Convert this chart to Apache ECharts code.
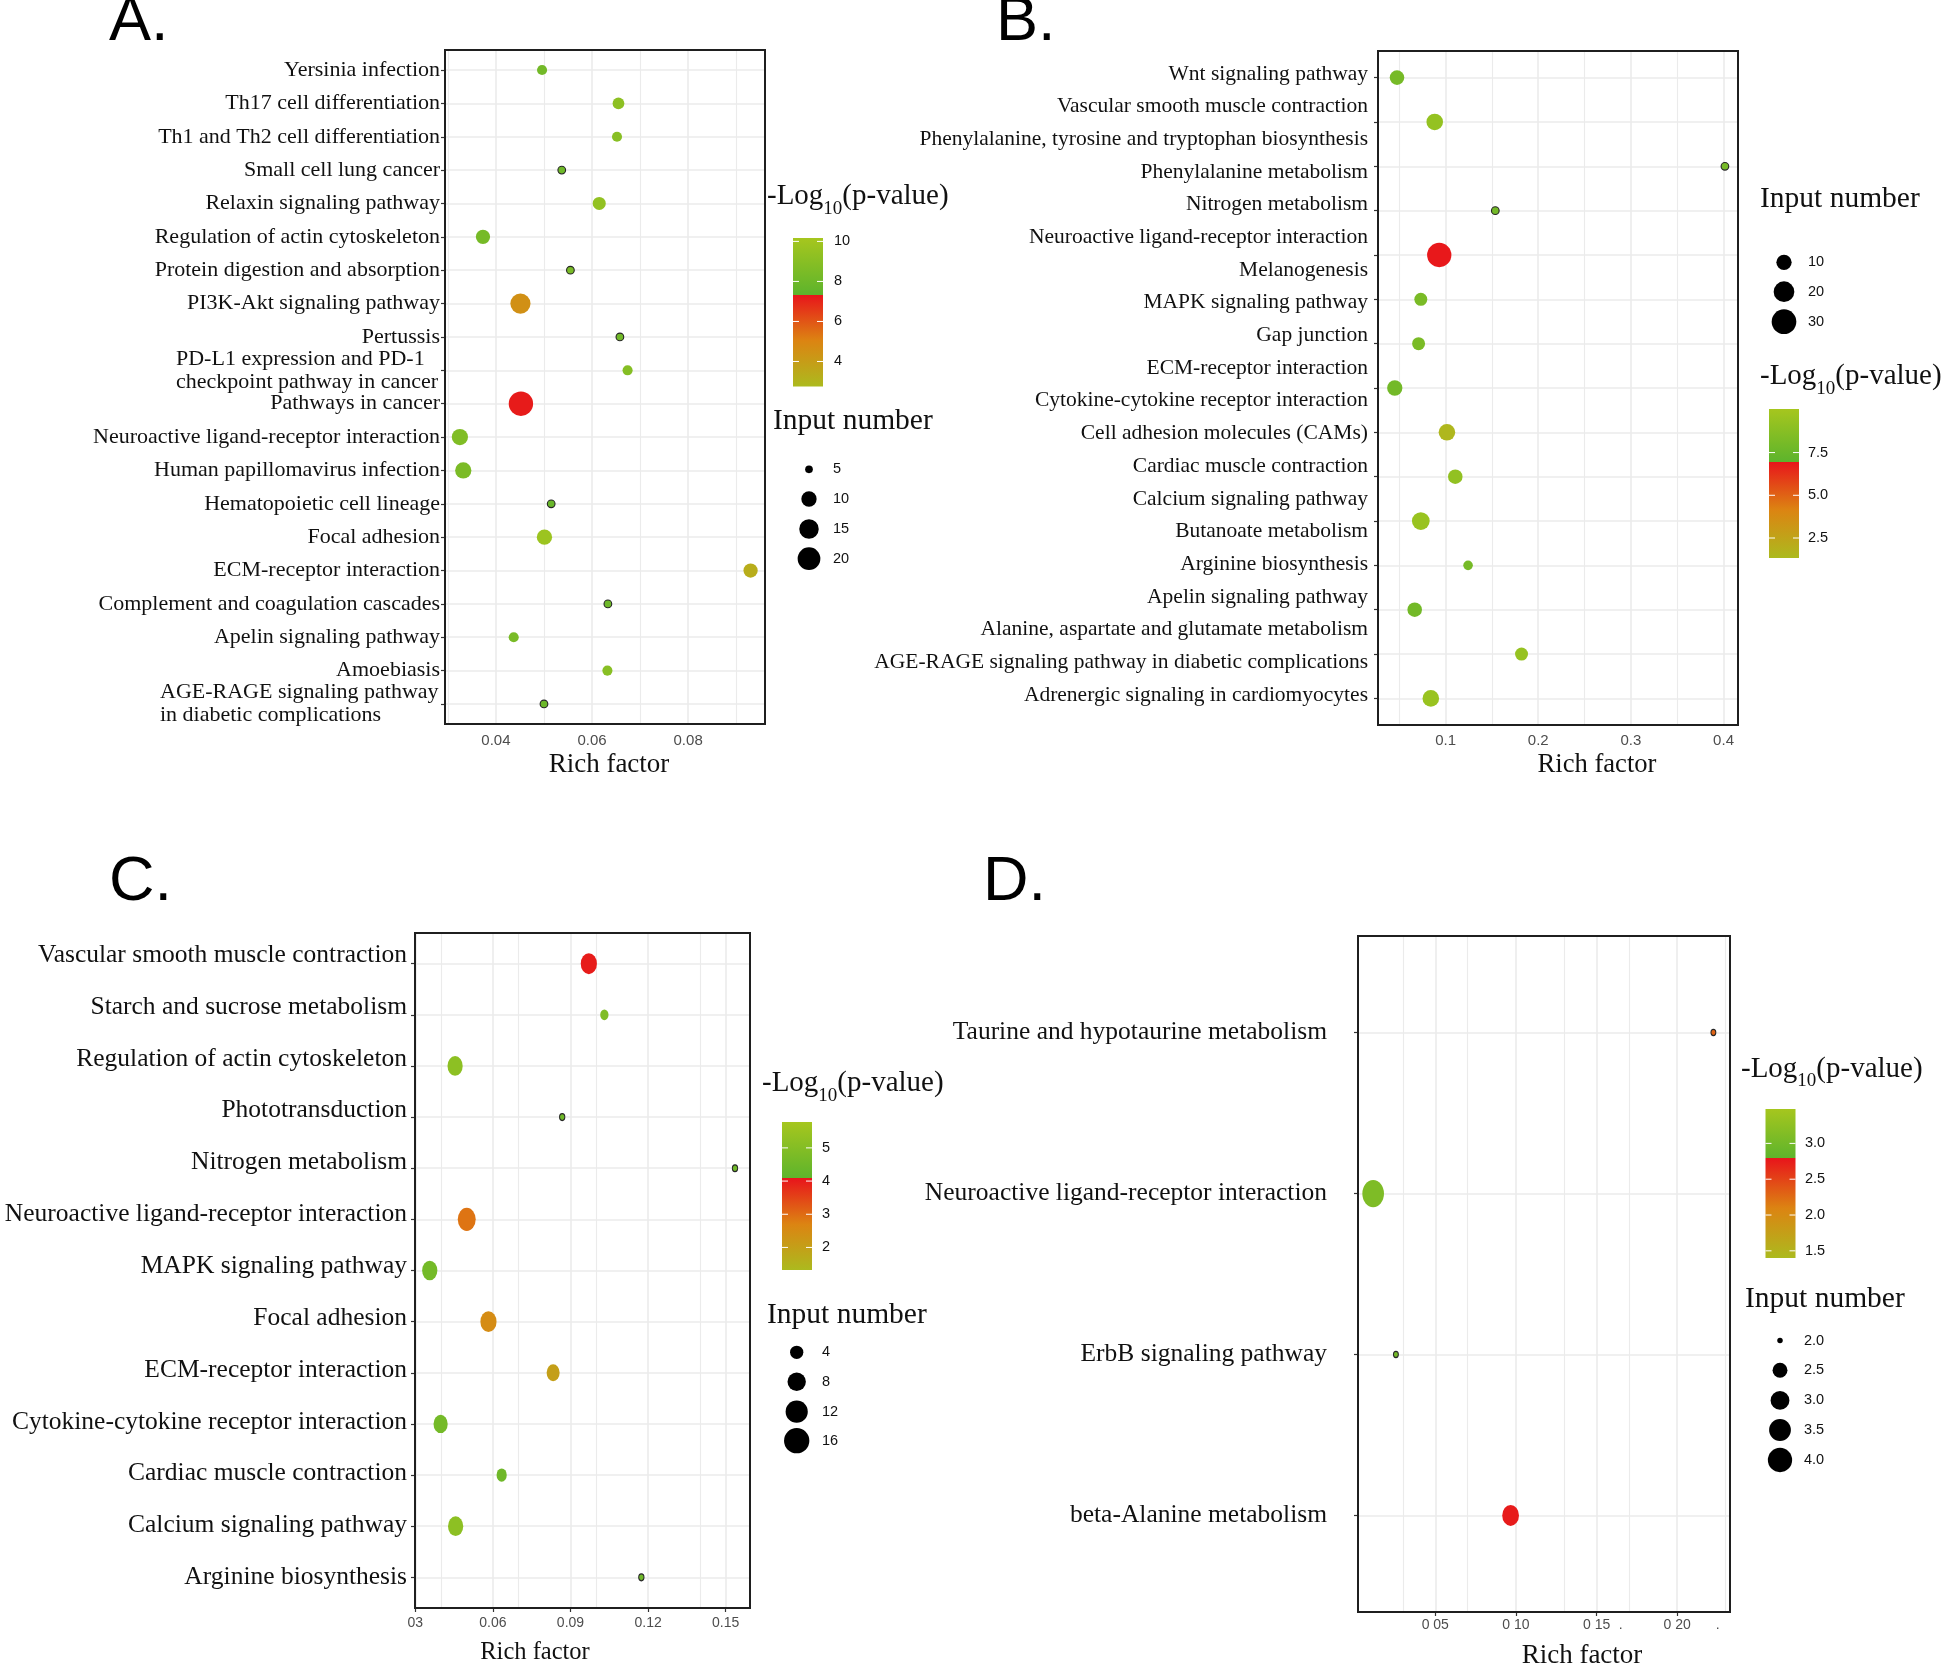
<!DOCTYPE html>
<html><head><meta charset="utf-8">
<script src="https://cdn.jsdelivr.net/npm/echarts@6/dist/echarts.min.js"></script>
<style>html,body{margin:0;padding:0;background:#fff}#c{width:1944px;height:1668px}</style>
</head><body><div id="c"></div>
<script>
// ================= DATA =================
// Panel A
const aTerms = ["Yersinia infection","Th17 cell differentiation","Th1 and Th2 cell differentiation","Small cell lung cancer","Relaxin signaling pathway","Regulation of actin cytoskeleton","Protein digestion and absorption","PI3K-Akt signaling pathway","Pertussis","PD-L1 expression and PD-1\ncheckpoint pathway in cancer","Pathways in cancer","Neuroactive ligand-receptor interaction","Human papillomavirus infection","Hematopoietic cell lineage","Focal adhesion","ECM-receptor interaction","Complement and coagulation cascades","Apelin signaling pathway","Amoebiasis","AGE-RAGE signaling pathway\nin diabetic complications"];
const aRich  = [0.0496,0.0655,0.0652,0.0537,0.0615,0.0373,0.0555,0.0451,0.0658,0.0674,0.0452,0.0325,0.0332,0.0515,0.0501,0.0930,0.0633,0.0437,0.0632,0.0500];
const aCount = [6,7,6,5,8,9,5,16,5,6,23,11,11,5,10,9,5,6,6,5];
const aLogP  = [8.2,9.2,9.0,8.0,9.4,8.3,8.4,4.5,8.1,8.9,7.2,8.7,8.5,7.8,9.8,3.3,8.0,8.4,9.0,7.9];
const aXTicks = [0.04,0.06,0.08];
const aXTickLabels = ["0.04","0.06","0.08"];
const aXMinor = [0.03,0.05,0.07,0.09];
const aColorRange = [2.75,7.33,10.17];
const aColorTicks = [10,8,6,4];
const aColorTickLabels = ["10","8","6","4"];
const aSizeBreaks = [5,10,15,20];
const aSizeLabels = ["5","10","15","20"];

// Panel B (20 labels drawn over 15 dot rows, as in the figure)
const bTerms = ["Wnt signaling pathway","Vascular smooth muscle contraction","Phenylalanine, tyrosine and tryptophan biosynthesis","Phenylalanine metabolism","Nitrogen metabolism","Neuroactive ligand-receptor interaction","Melanogenesis","MAPK signaling pathway","Gap junction","ECM-receptor interaction","Cytokine-cytokine receptor interaction","Cell adhesion molecules (CAMs)","Cardiac muscle contraction","Calcium signaling pathway","Butanoate metabolism","Arginine biosynthesis","Apelin signaling pathway","Alanine, aspartate and glutamate metabolism","AGE-RAGE signaling pathway in diabetic complications","Adrenergic signaling in cardiomyocytes"];
const bRich  = [0.0476,0.0883,0.4015,0.1537,0.0932,0.0733,0.0709,0.0452,0.1015,0.1105,0.0733,0.1243,0.0667,0.1820,0.0841];
const bCount = [9,12,3,3,29,7,7,10,12,9,14,4,9,7,12];
const bLogP  = [8.0,9.3,8.1,7.9,6.9,8.2,8.2,7.9,1.5,9.2,9.5,8.0,7.9,9.4,9.5];
const bXTicks = [0.1,0.2,0.3,0.4];
const bXTickLabels = ["0.1","0.2","0.3","0.4"];
const bXMinor = [0.05,0.15,0.25,0.35];
const bColorRange = [1.33,6.97,10.05];
const bColorTicks = [7.5,5.0,2.5];
const bColorTickLabels = ["7.5","5.0","2.5"];
const bSizeBreaks = [10,20,30];
const bSizeLabels = ["10","20","30"];

// Panel C
const cTerms = ["Vascular smooth muscle contraction","Starch and sucrose metabolism","Regulation of actin cytoskeleton","Phototransduction","Nitrogen metabolism","Neuroactive ligand-receptor interaction","MAPK signaling pathway","Focal adhesion","ECM-receptor interaction","Cytokine-cytokine receptor interaction","Cardiac muscle contraction","Calcium signaling pathway","Arginine biosynthesis"];
const cRich  = [0.0971,0.1031,0.0454,0.0868,0.1536,0.0499,0.0356,0.0583,0.0833,0.0398,0.0634,0.0456,0.1174];
const cCount = [8,2,7,1,1,10,7,8,5,6,3,7,1];
const cLogP  = [4.0,4.9,5.2,4.5,4.5,2.9,4.6,2.5,2.0,4.6,4.5,5.2,4.5];
const cXTicks = [0.03,0.06,0.09,0.12,0.15];
const cXTickLabels = ["03","0.06","0.09","0.12","0.15"];
const cXMinor = [0.045,0.075,0.105,0.135];
const cColorRange = [1.32,4.08,5.78];
const cColorTicks = [5,4,3,2];
const cColorTickLabels = ["5","4","3","2"];
const cSizeBreaks = [4,8,12,16];
const cSizeLabels = ["4","8","12","16"];

// Panel D
const dTerms = ["Taurine and hypotaurine metabolism","Neuroactive ligand-receptor interaction","ErbB signaling pathway","beta-Alanine metabolism"];
const dRich  = [0.2224,0.0115,0.0256,0.0967];
const dCount = [2,4,2,3];
const dLogP  = [2.3,3.1,3.0,2.75];
const dXTicks = [0.05,0.10,0.15,0.20];
const dXLabelValues = [0.05,0.10,0.15,0.165,0.20,0.225];
const dXTickLabels = ["0 05","0 10","0 15",".","0 20","."];
const dXMinor = [0.025,0.075,0.125,0.175,0.225];
const dColorRange = [1.40,2.79,3.48];
const dColorTicks = [3.0,2.5,2.0,1.5];
const dColorTickLabels = ["3.0","2.5","2.0","1.5"];
const dSizeBreaks = [2.0,2.5,3.0,3.5,4.0];
const dSizeLabels = ["2.0","2.5","3.0","3.5","4.0"];

// ================= STYLE / LAYOUT =================
const SERIF = '"Liberation Serif","Times New Roman",serif';
const SANS = '"Liberation Sans",Arial,sans-serif';
const NARROW = '"Liberation Sans Narrow","Liberation Sans",Arial,sans-serif';
const COL = {olive:[172,186,30], orange:[220,132,18], red:[232,21,27], green:[93,180,44], yg:[166,198,30]};
function lerp(a,b,t){return a.map((x,i)=>Math.round(x+(b[i]-x)*t));}
function rgb(c){return 'rgb('+c.join(',')+')';}
function colorAt(r,v){
  const lo=r[0],brk=r[1],hi=r[2];
  if(v>=brk){const t=Math.min(1,(v-brk)/(hi-brk));return rgb(lerp(COL.green,COL.yg,t));}
  const t=Math.max(0,(v-lo)/(brk-lo));
  return t<0.5?rgb(lerp(COL.olive,COL.orange,t/0.5)):rgb(lerp(COL.orange,COL.red,(t-0.5)/0.5));
}

const P = [
 {terms:aTerms, rich:aRich, count:aCount, logp:aLogP, nRows:aRich.length, lblTerms:null,
  grid:[445,50,320,674], xr:[0.0294,0.0960], xTicks:aXTicks, xLabelVals:aXTicks, xLabels:aXTickLabels, xMinor:aXMinor,
  showXTicks:false, xFont:SANS, xFs:15, xMargin:9, yFs:22, yMargin:5,
  cr:aColorRange, cTicks:aColorTicks, cTickLabels:aColorTickLabels, sBreaks:aSizeBreaks, sLabels:aSizeLabels,
  size:{lo:4.5,d0:4.4,k:4.65}, aspect:null,
  letter:["A.",109,23], rf:[609,765,27],
  logT:[767,196.5], bar:[793,238,30,148.5], barLX:834, sizeT:[773,421.7], sizeX:809, sizeYs:[469.3,499,529,558.7], sizeLX:833, legFont:SANS},
 {terms:null, rich:bRich, count:bCount, logp:bLogP, nRows:bRich.length, lblTerms:bTerms, lbl:{min:-0.707,max:19.92,fs:21.5,margin:10},
  grid:[1378,51,360,674], xr:[0.0271,0.4156], xTicks:bXTicks, xLabelVals:bXTicks, xLabels:bXTickLabels, xMinor:bXMinor,
  showXTicks:false, xFont:SANS, xFs:15, xMargin:8, yFs:21.5, yMargin:10,
  cr:bColorRange, cTicks:bColorTicks, cTickLabels:bColorTickLabels, sBreaks:bSizeBreaks, sLabels:bSizeLabels,
  size:{lo:2.5,d0:5.0,k:3.75}, aspect:null,
  letter:["B.",996,23], rf:[1597,765,26.6],
  logT:[1760,376.7], bar:[1769,409,30,149], barLX:1808, sizeT:[1760,199.3], sizeX:1784, sizeYs:[262.3,291.7,321.7], sizeLX:1808, legFont:SANS},
 {terms:null, rich:cRich, count:cCount, logp:cLogP, nRows:cRich.length, lblTerms:cTerms, lbl:{min:-0.426,max:12.59,fs:25.5,margin:8},
  grid:[415,933,335,675], xr:[0.0299,0.1594], xTicks:cXTicks, xLabelVals:cXTicks, xLabels:cXTickLabels, xMinor:cXMinor,
  showXTicks:true, xFont:NARROW, xFs:14, xMargin:8, yFs:25.5, yMargin:8,
  cr:cColorRange, cTicks:cColorTicks, cTickLabels:cColorTickLabels, sBreaks:cSizeBreaks, sLabels:cSizeLabels,
  size:{lo:0.7,d0:2.9,k:5.73}, aspect:[0.88,1.14],
  letter:["C.",109,883], rf:[535,1653,24.5],
  logT:[762,1083.3], bar:[782,1122,30,148], barLX:822, sizeT:[767,1315], sizeX:796.7, sizeYs:[1352.3,1381.7,1411.7,1440.7], sizeLX:822, legFont:SANS},
 {terms:dTerms, rich:dRich, count:dCount, logp:dLogP, nRows:dRich.length, lblTerms:null,
  grid:[1358,936,372,676], xr:[0.0021,0.2327], xTicks:dXTicks, xLabelVals:dXLabelValues, xLabels:dXTickLabels, xMinor:dXMinor,
  showXTicks:true, xFont:NARROW, xFs:14, xMargin:6, yFs:25.5, yMargin:31,
  cr:dColorRange, cTicks:dColorTicks, cTickLabels:dColorTickLabels, sBreaks:dSizeBreaks, sLabels:dSizeLabels,
  size:{lo:2,d0:5.5,k:13.3}, aspect:[0.89,1.12],
  letter:["D.",983,883], rf:[1582,1656,27],
  logT:[1741,1069], bar:[1765.5,1109,30,149], barLX:1805, sizeT:[1745,1299.5], sizeX:1780, sizeYs:[1340.5,1370.3,1400.4,1430,1460], sizeLX:1804, legFont:NARROW}
];

function diam(p,v){return p.size.d0+p.size.k*Math.sqrt(Math.max(0,v-p.size.lo));}

const measureCtx = document.createElement('canvas').getContext('2d');
// label spec for a y axis; 'which' filters term indices shown on this axis
function labelAxisLabel(terms, fs, margin, which){
  const rich = {};
  measureCtx.font = fs+'px "Liberation Serif"';
  const idx = terms.map((t,i)=>i).filter(i=>!which || which(terms[i]));
  idx.forEach(i=>{
    const t=terms[i];
    if(t.indexOf('\n')>=0){
      const lines=t.split('\n');
      const W=Math.ceil(Math.max.apply(null,lines.map(l=>measureCtx.measureText(l).width)))+1;
      rich['m'+i]={width:W,align:'left',fontSize:fs,fontFamily:SERIF,color:'#111',lineHeight:23};
    }
  });
  return {
    customValues: idx,
    showMinLabel:true, showMaxLabel:true, hideOverlap:false,
    formatter: function(v){
      const t=terms[v]; if(t===undefined) return '';
      if(t.indexOf('\n')>=0) return t.split('\n').map(l=>'{m'+v+'|'+l+'}').join('\n');
      return t;
    },
    rich: rich, fontSize: fs, fontFamily: SERIF, color:'#111', margin: margin, lineHeight: 23
  };
}
const isMulti = t=>t.indexOf('\n')>=0;

const grids=[], xAxes=[], yAxes=[], series=[], visualMaps=[], graphics=[];

P.forEach((p,gi)=>{
  grids.push({left:p.grid[0], top:p.grid[1], width:p.grid[2], height:p.grid[3], show:true,
    borderColor:'#1f1f1f', borderWidth:2, backgroundColor:'transparent', z:6, containLabel:false, outerBoundsMode:'none'});
  const xi = xAxes.length;
  xAxes.push({gridIndex:gi, type:'value', min:p.xr[0], max:p.xr[1],
    axisLine:{show:false,onZero:false}, splitLine:{show:false},
    axisTick:{show:p.showXTicks, customValues:p.xTicks, length:4, lineStyle:{color:'#333',width:1.2}},
    axisLabel:{customValues:p.xLabelVals, showMinLabel:true, showMaxLabel:true, hideOverlap:false,
      formatter:function(v){const k=p.xLabelVals.indexOf(v);return k>=0?p.xLabels[k]:'';},
      fontFamily:p.xFont, fontSize:p.xFs, color:'#4d4d4d', margin:p.xMargin}});
  const rows = p.rich.map((r,i)=>i);
  const yi = yAxes.length;
  yAxes.push({gridIndex:gi, type:'value', inverse:true, position:'left', min:-0.6, max:p.nRows-0.4,
    axisLine:{show:false,onZero:false}, splitLine:{show:false},
    axisTick:{show:true, customValues:rows, length:4, lineStyle:{color:'#333',width:1.2}},
    axisLabel: p.terms ? labelAxisLabel(p.terms, p.yFs, p.yMargin, t=>!isMulti(t)) : {show:false}});
  if(p.terms && p.terms.some(isMulti)){
    // multi-line labels on an overlaid label-only axis with the same scale
    yAxes.push({gridIndex:gi, type:'value', inverse:true, position:'left', min:-0.6, max:p.nRows-0.4,
      axisLine:{show:false,onZero:false}, splitLine:{show:false}, axisTick:{show:false},
      axisLabel: labelAxisLabel(p.terms, p.yFs, p.yMargin, isMulti)});
  }
  if(p.lblTerms){
    yAxes.push({gridIndex:gi, type:'value', inverse:true, position:'left', min:p.lbl.min, max:p.lbl.max,
      axisLine:{show:false,onZero:false}, splitLine:{show:false}, axisTick:{show:false},
      axisLabel: labelAxisLabel(p.lblTerms, p.lbl.fs, p.lbl.margin)});
  }
  // grid lines through the axes' own scales
  const ml = [];
  p.xTicks.forEach(v=>ml.push({xAxis:v, lineStyle:{width:1.6}}));
  p.xMinor.forEach(v=>ml.push({xAxis:v, lineStyle:{width:1.1}}));
  rows.forEach(i=>ml.push({yAxis:i, lineStyle:{width:1.6}}));
  series.push({type:'scatter', xAxisIndex:xi, yAxisIndex:yi, data:[], silent:true, animation:false,
    markLine:{silent:true, animation:false, z:1, symbol:['none','none'], label:{show:false},
      emphasis:{disabled:true}, lineStyle:{color:'#ebebeb', type:'solid', width:1.6}, data:ml}});
  const minCount = Math.min.apply(null,p.count);
  const items = p.rich.map((r,i)=>{
    const it={value:[r,i,p.count[i],p.logp[i]]};
    if(p.count[i]===minCount) it.itemStyle={borderColor:'#262626',borderWidth:1.1};
    return it;
  });
  const si = series.length;
  series.push({type:'scatter', xAxisIndex:xi, yAxisIndex:yi, z:3, animation:false, data:items,
    symbolSize:function(val){const d=diam(p,val[2]);return p.aspect?[d*p.aspect[0],d*p.aspect[1]]:d;},
    itemStyle:{opacity:1}, emphasis:{disabled:true}});
  const cols=[]; const N=240;
  for(let k=0;k<=N;k++){cols.push(colorAt(p.cr, p.cr[0]+(p.cr[2]-p.cr[0])*k/N));}
  visualMaps.push({type:'continuous', show:false, seriesIndex:si, dimension:3, min:p.cr[0], max:p.cr[2], inRange:{color:cols}});

  // ---- graphics: panel letter, axis title, legends
  graphics.push({type:'text', x:p.letter[1], y:p.letter[2], silent:true,
    style:{text:p.letter[0], fontSize:63, fontFamily:SANS, fill:'#000', align:'left', verticalAlign:'middle'}});
  graphics.push({type:'text', x:p.rf[0], y:p.rf[1], silent:true,
    style:{text:'Rich factor', fontSize:p.rf[2], fontFamily:SERIF, fill:'#111', align:'center', verticalAlign:'middle'}});
  graphics.push({type:'text', x:p.logT[0], y:p.logT[1], silent:true,
    style:{text:'{a|-Log}{b|10}{a|(p-value)}', align:'left', verticalAlign:'middle',
      rich:{a:{fontSize:29, fontFamily:SERIF, fill:'#111', lineHeight:44},
            b:{fontSize:19, fontFamily:SERIF, fill:'#111', lineHeight:22, verticalAlign:'bottom'}}}});
  graphics.push({type:'text', x:p.sizeT[0], y:p.sizeT[1], silent:true,
    style:{text:'Input number', fontSize:29.5, fontFamily:SERIF, fill:'#111', align:'left', verticalAlign:'middle'}});
  // colour bar
  const [bx,by,bw,bh]=p.bar; const lo=p.cr[0],brk=p.cr[1],hi=p.cr[2];
  const fb=(hi-brk)/(hi-lo);
  const stops=[{offset:0,color:colorAt(p.cr,hi)},{offset:fb,color:colorAt(p.cr,brk)},
    {offset:Math.min(1,fb+0.0005),color:colorAt(p.cr,brk-1e-6)},
    {offset:fb+(1-fb)*0.5,color:colorAt(p.cr,lo+(brk-lo)*0.5)},{offset:1,color:colorAt(p.cr,lo)}];
  graphics.push({type:'rect', silent:true, shape:{x:bx,y:by,width:bw,height:bh},
    style:{fill:new echarts.graphic.LinearGradient(0,0,0,1,stops)}});
  p.cTicks.forEach((v,k)=>{
    const ty=by+(hi-v)/(hi-lo)*bh;
    graphics.push({type:'line', silent:true, shape:{x1:bx,y1:ty,x2:bx+6,y2:ty}, style:{stroke:'#fff',lineWidth:1}});
    graphics.push({type:'line', silent:true, shape:{x1:bx+bw-6,y1:ty,x2:bx+bw,y2:ty}, style:{stroke:'#fff',lineWidth:1}});
    graphics.push({type:'text', x:p.barLX, y:ty, silent:true,
      style:{text:p.cTickLabels[k], fontSize:14.5, fontFamily:p.legFont, fill:'#111', align:'left', verticalAlign:'middle'}});
  });
  // size legend
  p.sBreaks.forEach((v,k)=>{
    graphics.push({type:'circle', silent:true, shape:{cx:p.sizeX, cy:p.sizeYs[k], r:diam(p,v)/2}, style:{fill:'#000'}});
    graphics.push({type:'text', x:p.sizeLX, y:p.sizeYs[k], silent:true,
      style:{text:p.sLabels[k], fontSize:14.5, fontFamily:p.legFont, fill:'#111', align:'left', verticalAlign:'middle'}});
  });
});

const chart = echarts.init(document.getElementById('c'), null, {renderer:'canvas', width:1944, height:1668});
chart.setOption({
  backgroundColor:'#fff', animation:false,
  grid:grids, xAxis:xAxes, yAxis:yAxes, series:series, visualMap:visualMaps, graphic:graphics
});
</script></body></html>
